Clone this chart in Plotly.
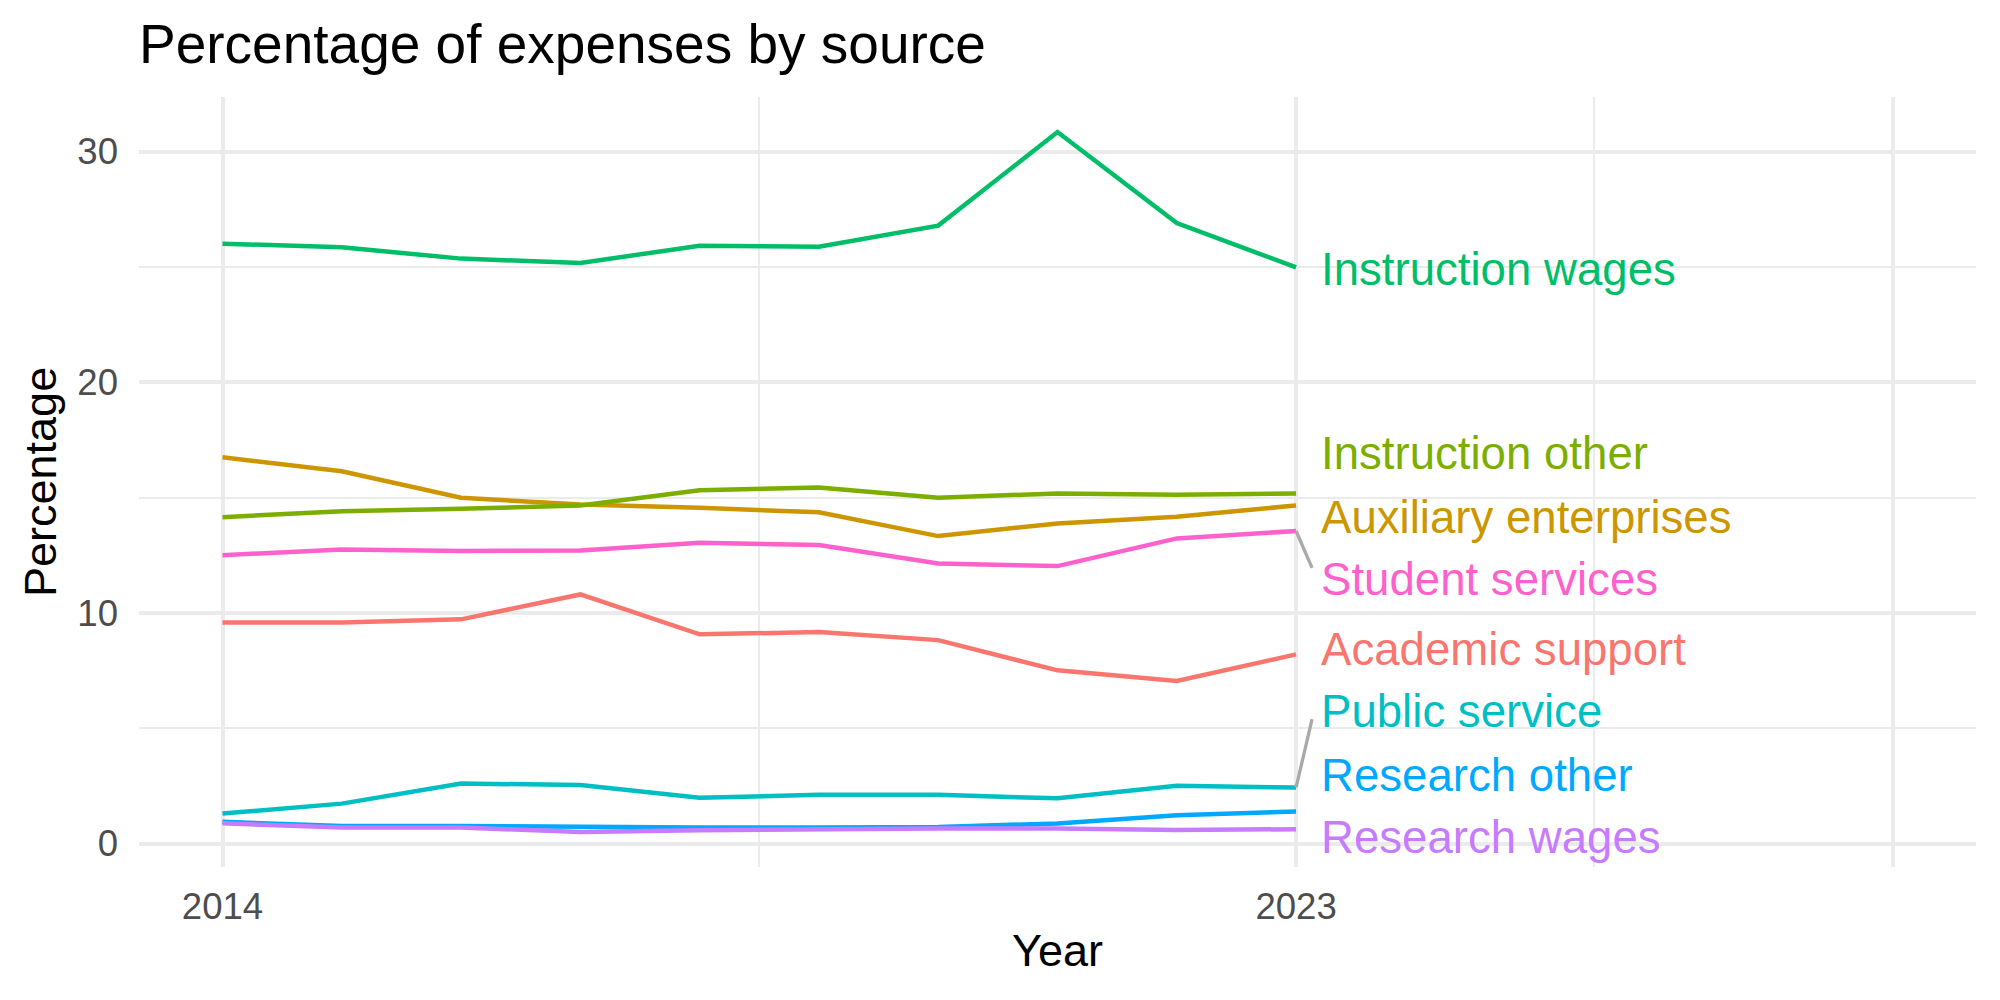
import plotly.graph_objects as go
import numpy as np

# ---------------- data ----------------
years = list(range(2014, 2024))

academic_support      = [9.58, 9.58, 9.72, 10.80, 9.07, 9.17, 8.82, 7.51, 7.05, 8.20]
auxiliary_enterprises = [16.75, 16.14, 14.99, 14.70, 14.56, 14.36, 13.33, 13.88, 14.17, 14.66]
instruction_other     = [14.15, 14.41, 14.51, 14.66, 15.32, 15.44, 14.99, 15.18, 15.12, 15.18]
instruction_wages     = [26.01, 25.85, 25.36, 25.17, 25.92, 25.88, 26.79, 30.85, 26.90, 24.98]
public_service        = [1.30, 1.73, 2.60, 2.54, 1.99, 2.11, 2.11, 1.96, 2.50, 2.43]
research_other        = [0.94, 0.76, 0.76, 0.72, 0.69, 0.69, 0.72, 0.87, 1.23, 1.39]
research_wages        = [0.88, 0.69, 0.69, 0.50, 0.58, 0.62, 0.65, 0.65, 0.59, 0.62]
student_services      = [12.50, 12.75, 12.68, 12.71, 13.04, 12.94, 12.14, 12.03, 13.23, 13.55]

source_names = ["Academic support", "Auxiliary enterprises", "Instruction other",
                "Instruction wages", "Public service", "Research other",
                "Research wages", "Student services"]
source_values = [academic_support, auxiliary_enterprises, instruction_other,
                 instruction_wages, public_service, research_other,
                 research_wages, student_services]

x_tick_labels = ["2014", "2023", ""]
y_tick_values = [0, 10, 20, 30]

# ---------------- styling / layout ----------------
colors = ["#F8766D", "#CD9600", "#7CAE00", "#00BE67",
          "#00BFC4", "#00A9FF", "#C77CFF", "#FF61CC"]

# repelled text-label heights (where the label text sits after repel)
label_y = {
    "Instruction wages": 24.96,
    "Instruction other": 17.00,
    "Auxiliary enterprises": 14.24,
    "Student services": 11.55,
    "Academic support": 8.51,
    "Public service": 5.79,
    "Research other": 3.05,
    "Research wages": 0.33,
}

FONT = "Liberation Sans, Arial, Helvetica, sans-serif"
W, H = 2000, 1000
ML, MR, MT, MB = 139, 24, 97, 133

x_limits = (2014, 2028)
x_pad = 0.05 * (x_limits[1] - x_limits[0])
x_range = [x_limits[0] - x_pad, x_limits[1] + x_pad]

all_vals = np.concatenate([np.array(v) for v in source_values])
y_lo, y_hi = float(all_vals.min()), float(all_vals.max())
y_pad = 0.05 * (y_hi - y_lo)
y_range = [y_lo - y_pad, y_hi + y_pad]

px_per_year = (W - ML - MR) / (x_range[1] - x_range[0])
seg_dx = 16 / px_per_year

fig = go.Figure()

for name, vals, col in zip(source_names, source_values, colors):
    fig.add_trace(go.Scatter(
        x=years, y=vals, mode="lines",
        line=dict(color=col, width=4.5),
        showlegend=False, hoverinfo="skip", name=name,
    ))

# repel segments for labels that were moved far from their line end
last_year = years[-1]
for name, vals in zip(source_names, source_values):
    end_val = vals[-1]
    ly = label_y[name]
    if abs(ly - end_val) > 1.9:
        y_end = ly + 0.4 * np.sign(end_val - ly)
        fig.add_trace(go.Scatter(
            x=[last_year, last_year + seg_dx], y=[end_val, y_end],
            mode="lines", line=dict(color="#A9A9A9", width=3.3),
            showlegend=False, hoverinfo="skip",
        ))

annotations = []
for name, col in zip(source_names, colors):
    annotations.append(dict(
        x=last_year, y=label_y[name], xref="x", yref="y",
        text=name, showarrow=False, xanchor="left", yanchor="middle",
        xshift=24, yshift=-2, borderpad=0,
        font=dict(family=FONT, size=45.6, color=col),
    ))

# axis titles
annotations.append(dict(
    x=0.5, y=0, xref="paper", yref="paper", text="Year", showarrow=False,
    xanchor="center", yanchor="middle", yshift=-83,
    font=dict(family=FONT, size=45, color="black"),
))
annotations.append(dict(
    x=0, y=0.5, xref="paper", yref="paper", text="Percentage", showarrow=False,
    xanchor="center", yanchor="middle", xshift=-99, textangle=-90,
    font=dict(family=FONT, size=45, color="black"),
))

fig.update_layout(
    width=W, height=H,
    margin=dict(l=ML, r=MR, t=MT, b=MB, pad=0),
    paper_bgcolor="white", plot_bgcolor="white",
    showlegend=False,
    title=dict(
        text="Percentage of expenses by source",
        x=0, xref="paper", xanchor="left",
        y=1 - 44 / H, yref="container", yanchor="middle",
        font=dict(family=FONT, size=55, color="black"),
    ),
    annotations=annotations,
    xaxis=dict(
        range=x_range, tickmode="array",
        tickvals=[2014, 2023, 2028], ticktext=x_tick_labels,
        showgrid=True, gridcolor="#EBEBEB", gridwidth=4.4,
        zeroline=False, showline=False, ticks="",
        ticklabelstandoff=14,
        tickfont=dict(family=FONT, size=36.6, color="#4D4D4D"),
        minor=dict(tickmode="array", tickvals=[2018.5, 2025.5],
                   showgrid=True, gridcolor="#EBEBEB", gridwidth=2.2, ticks=""),
    ),
    yaxis=dict(
        range=y_range, tickmode="array", tickvals=y_tick_values,
        showgrid=True, gridcolor="#EBEBEB", gridwidth=4.4,
        zeroline=False, showline=False, ticks="",
        ticklabelstandoff=20,
        tickfont=dict(family=FONT, size=36.6, color="#4D4D4D"),
        minor=dict(tickmode="array", tickvals=[5, 15, 25],
                   showgrid=True, gridcolor="#EBEBEB", gridwidth=2.2, ticks=""),
    ),
)

fig.write_html("out.html")
